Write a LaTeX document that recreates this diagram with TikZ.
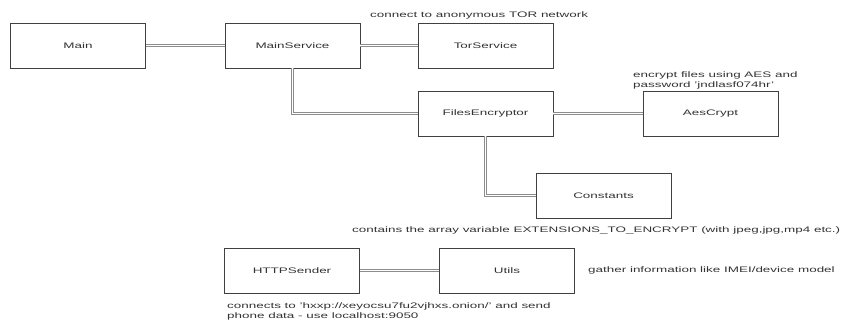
\documentclass[tikz,border=0pt]{standalone}
\usepackage{fontspec}
\setmainfont{Liberation Sans}[FakeStretch=1.68]
\begin{document}
\begin{tikzpicture}[x=1pt,y=-1pt,
  box/.style={draw=black!75,line width=0.7pt,fill=white,minimum width=135pt,minimum height=45pt,inner sep=0pt,font=\fontsize{8}{9.5}\selectfont,text=black!80},
  link/.style={draw=black!45,double=white,double distance=1.3pt,line width=0.6pt},
  note/.style={font=\fontsize{8}{10.5}\selectfont,text=black!80,inner sep=0pt,anchor=west,align=left}]
\useasboundingbox (0,0) rectangle (842,325);
\node[box] (main) at (78,45.5) {Main};
\node[box] (ms) at (292.5,45.5) {MainService};
\node[box] (tor) at (485.5,45.5) {TorService};
\node[box] (fe) at (485.5,113.5) {FilesEncryptor};
\node[box] (aes) at (710.5,113.5) {AesCrypt};
\node[box] (const) at (603.5,195.5) {Constants};
\node[box] (http) at (292,270.5) {HTTPSender};
\node[box] (utils) at (507,270.5) {Utils};
\draw[link] (main.east) -- (ms.west);
\draw[link] (ms.east) -- (tor.west);
\draw[link] (ms.south) |- (fe.west);
\draw[link] (fe.east) -- (aes.west);
\draw[link] (fe.south) |- (const.west);
\draw[link] (http.east) -- (utils.west);
\node[note] (n1) at (370,15) {connect to anonymous TOR network};
\node[note] (n2) at (633,80.5) {encrypt files using AES and\\password 'jndlasf074hr'};
\node[note] (n3) at (352,230) {contains the array variable EXTENSIONS\_TO\_ENCRYPT (with jpeg,jpg,mp4 etc.)};
\node[note] (n4) at (588,270.5) {gather information like IMEI/device model};
\node[note] (n5) at (227,311.5) {connects to 'hxxp://xeyocsu7fu2vjhxs.onion/' and send\\phone data - use localhost:9050};
\end{tikzpicture}
\end{document}
